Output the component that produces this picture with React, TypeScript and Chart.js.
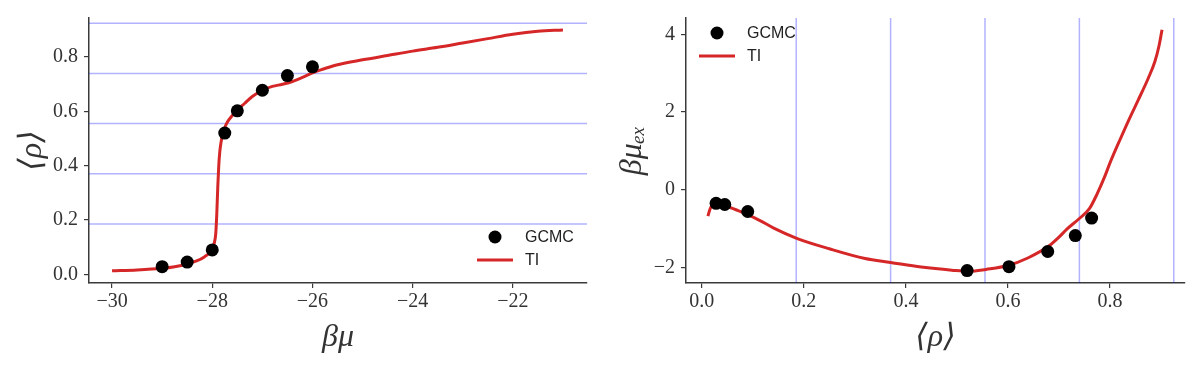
import { useEffect, useRef } from "react";
import { Chart, registerables } from "chart.js";

Chart.register(...registerables);

// ---------- data ----------
const gcmcMu = [-29, -28.5, -28, -27.75, -27.5, -27, -26.5, -26];
const gcmcRho = [0.028, 0.045, 0.09, 0.52, 0.602, 0.678, 0.732, 0.764];
const gcmcMuEx = [-0.35, -0.38, -0.56, -2.08, -1.98, -1.59, -1.18, -0.73];

const tiMu = [-30, -29.5, -29, -28.75, -28.5, -28.3, -28.15, -28.05, -28.0, -27.96, -27.93, -27.91, -27.89, -27.87, -27.85, -27.83, -27.8, -27.75, -27.7, -27.6, -27.5, -27.35, -27.2, -27.0, -26.8, -26.6, -26.4, -26.2, -26.0, -25.75, -25.5, -25.0, -24.5, -24.0, -23.5, -23.0, -22.5, -22.0, -21.5, -21.0];
const tiRho = [0.013, 0.016, 0.022, 0.028, 0.038, 0.05, 0.065, 0.08, 0.095, 0.115, 0.15, 0.22, 0.32, 0.4, 0.45, 0.48, 0.51, 0.54, 0.56, 0.585, 0.605, 0.63, 0.655, 0.678, 0.692, 0.7, 0.71, 0.725, 0.742, 0.758, 0.772, 0.79, 0.806, 0.822, 0.836, 0.852, 0.868, 0.884, 0.895, 0.9];

const tiRhoB = [0.012, 0.016, 0.02, 0.03, 0.046, 0.07, 0.09, 0.115, 0.14, 0.186, 0.25, 0.32, 0.37, 0.43, 0.49, 0.525, 0.557, 0.6, 0.64, 0.68, 0.7, 0.715, 0.74, 0.76, 0.775, 0.79, 0.8, 0.82, 0.837, 0.855, 0.875, 0.888, 0.896, 0.902];
const tiMuEx = [-0.68, -0.5, -0.4, -0.38, -0.42, -0.53, -0.64, -0.8, -0.98, -1.25, -1.52, -1.77, -1.87, -1.99, -2.07, -2.1, -2.05, -1.95, -1.75, -1.45, -1.22, -1.02, -0.74, -0.48, -0.1, 0.35, 0.69, 1.3, 1.8, 2.3, 2.87, 3.3, 3.7, 4.12];

const refLevels = [0.185, 0.37, 0.555, 0.74, 0.925];

const leftXTicks = [-30, -28, -26, -24, -22];
const leftYTicks = [0, 0.2, 0.4, 0.6, 0.8];
const rightXTicks = [0, 0.2, 0.4, 0.6, 0.8];
const rightYTicks = [-2, 0, 2, 4];

// ---------- styles ----------
const RED = "#d62728";
const AXIS = "#3a3a3a";
const TEXT = "#333333";
const SERIF = "'Liberation Serif', 'DejaVu Serif', serif";
const SANS = "'Liberation Sans', Arial, sans-serif";

const fmtInt = (v: number) => (v < 0 ? "\u2212" + Math.abs(v).toFixed(0) : v.toFixed(0));
const fmt1 = (v: number) => (v < 0 ? "\u2212" + Math.abs(v).toFixed(1) : v.toFixed(1));

const refLinePlugin = {
  id: "refLines",
  beforeDatasetsDraw(chart: any, _args: any, opts: any) {
    if (!opts || !opts.values) return;
    const { ctx, chartArea } = chart;
    ctx.save();
    ctx.strokeStyle = opts.color;
    ctx.lineWidth = opts.width;
    for (const v of opts.values) {
      ctx.beginPath();
      if (opts.axis === "y") {
        const p = chart.scales.y.getPixelForValue(v);
        ctx.moveTo(chartArea.left, p);
        ctx.lineTo(chartArea.right, p);
      } else {
        const p = chart.scales.x.getPixelForValue(v);
        ctx.moveTo(p, chartArea.top);
        ctx.lineTo(p, chartArea.bottom);
      }
      ctx.stroke();
    }
    ctx.restore();
  },
};

const legendPlugin = {
  id: "customLegend",
  afterDatasetsDraw(chart: any, _args: any, opts: any) {
    if (!opts || opts.x === undefined) return;
    const { ctx } = chart;
    ctx.save();
    ctx.font = `${opts.fontSize}px ${SANS}`;
    ctx.textBaseline = "middle";
    ctx.textAlign = "left";
    chart.data.datasets.forEach((ds: any, i: number) => {
      const y = opts.y + i * opts.gap;
      if (ds.showLine) {
        ctx.strokeStyle = ds.borderColor;
        ctx.lineWidth = ds.borderWidth;
        ctx.beginPath();
        ctx.moveTo(opts.x - 18, y);
        ctx.lineTo(opts.x + 18, y);
        ctx.stroke();
      } else {
        ctx.fillStyle = ds.backgroundColor;
        ctx.beginPath();
        ctx.arc(opts.x, y, ds.pointRadius, 0, Math.PI * 2);
        ctx.fill();
      }
      ctx.fillStyle = "#222";
      ctx.fillText(ds.label, opts.x + 30, y + 1);
    });
    ctx.restore();
  },
};

function axisCfg(o: any) {
  const isX = o.axis === "x";
  return {
    type: "linear",
    position: isX ? "bottom" : "left",
    min: o.min,
    max: o.max,
    afterBuildTicks: (s: any) => {
      s.ticks = o.ticks.map((v: number) => ({ value: v }));
    },
    afterFit: (s: any) => {
      if (isX) s.height = o.size;
      else s.width = o.size;
    },
    border: { display: true, color: AXIS, width: 1.5 },
    grid: { display: true, drawOnChartArea: false, drawTicks: true, tickLength: 5, color: AXIS, lineWidth: 1.2 },
    ticks: {
      color: TEXT,
      font: { family: SERIF, size: 20 },
      padding: isX ? 2 : 6,
      maxRotation: 0,
      autoSkip: false,
      callback: (v: any) => o.fmt(Number(v)),
    },
    title: {
      display: true,
      text: o.title,
      color: TEXT,
      font: { family: SERIF, size: 32, style: "italic" },
      padding: o.titlePad,
    },
  };
}

function makeConfig(p: any): any {
  return {
    type: "scatter",
    data: {
      datasets: [
        {
          label: "GCMC",
          data: p.px.map((x: number, i: number) => ({ x, y: p.py[i] })),
          backgroundColor: "#000000",
          borderWidth: 0,
          pointRadius: 6.5,
          pointHoverRadius: 6.5,
          showLine: false,
        },
        {
          label: "TI",
          data: p.lx.map((x: number, i: number) => ({ x, y: p.ly[i] })),
          borderColor: RED,
          backgroundColor: RED,
          borderWidth: 3,
          pointRadius: 0,
          showLine: true,
          cubicInterpolationMode: "monotone",
        },
      ],
    },
    options: {
      responsive: false,
      animation: false,
      events: [],
      layout: { padding: { left: 0, top: 12, right: 11, bottom: 0 } },
      scales: {
        x: axisCfg({ axis: "x", ...p.x }),
        y: axisCfg({ axis: "y", ...p.y }),
      },
      plugins: {
        legend: { display: false },
        tooltip: { enabled: false },
        refLines: { axis: p.refAxis, values: refLevels, color: "rgba(0,0,255,0.3)", width: 1.5 },
        customLegend: { x: p.legX, y: p.legY, gap: 23, fontSize: 16 },
      },
    },
    plugins: [refLinePlugin, legendPlugin],
  };
}

const leftParams = {
  px: gcmcMu,
  py: gcmcRho,
  lx: tiMu,
  ly: tiRho,
  refAxis: "y",
  legX: 495,
  legY: 237,
  x: { min: -30.46, max: -20.52, ticks: leftXTicks, fmt: fmtInt, size: 83, title: "βμ", titlePad: { top: 0, bottom: 9 } },
  y: { min: -0.032, max: 0.944, ticks: leftYTicks, fmt: fmt1, size: 89, title: "⟨ρ⟩", titlePad: { top: 13, bottom: 0 } },
};

const rightParams = {
  px: gcmcRho,
  py: gcmcMuEx,
  lx: tiRhoB,
  ly: tiMuEx,
  refAxis: "x",
  legX: 119,
  legY: 33,
  x: { min: -0.031, max: 0.947, ticks: rightXTicks, fmt: fmt1, size: 83, title: "⟨ρ⟩", titlePad: { top: 0, bottom: 9 } },
  y: { min: -2.4, max: 4.42, ticks: rightYTicks, fmt: fmtInt, size: 88, title: "βμₑₓ", titlePad: { top: 15, bottom: 0 } },
};

function ChartBox({ params, left }: { params: any; left: number }) {
  const ref = useRef<HTMLCanvasElement>(null);
  useEffect(() => {
    const chart = new Chart(ref.current as HTMLCanvasElement, makeConfig(params));
    return () => chart.destroy();
  }, [params]);
  return (
    <div style={{ position: "absolute", left, top: 0, width: 598, height: 366 }}>
      <canvas ref={ref} width={598} height={366} style={{ width: 598, height: 366, display: "block" }} />
    </div>
  );
}

export default function App() {
  return (
    <div style={{ position: "absolute", left: 0, top: 0, width: 1196, height: 366, background: "#ffffff" }}>
      <ChartBox params={leftParams} left={0} />
      <ChartBox params={rightParams} left={598} />
    </div>
  );
}
